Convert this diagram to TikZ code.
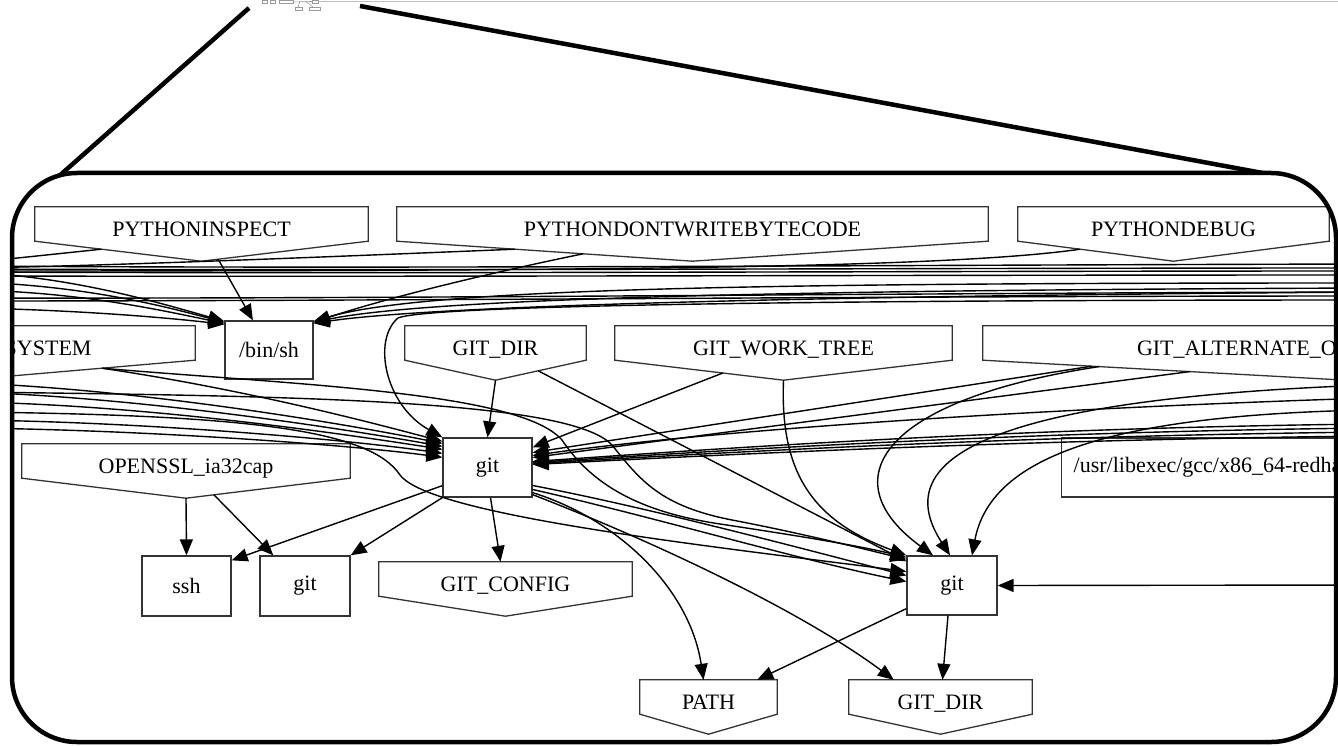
\documentclass[tikz,border=0pt]{standalone}
\usepackage{fontspec}
\setmainfont{Liberation Serif}
\usetikzlibrary{arrows.meta,calc}
\tikzset{
  nodeline/.style={draw=black!80, line width=1.3pt},
  gvfont/.style={font=\fontsize{22}{26}\selectfont},
  boxnode/.style={rectangle, nodeline, gvfont, inner sep=0pt},
  envbox/.style={rectangle, gvfont, inner sep=0pt, minimum height=34pt},
  edge/.style={line width=1.4pt, black},
  arr/.style={edge, -{Triangle[length=16pt,width=13pt]}},
  thumbline/.style={draw=black!40, line width=0.6pt},
  zoomline/.style={line width=4.5pt, black},
}
\newcommand\envnode[5]{%
  \node[envbox, minimum width=#4pt] (#1) at (#2,#3+17) {\raisebox{-12.5pt}[0pt][0pt]{#5}};
  \coordinate (#1-tip) at ($(#1.south)+(0,20)$);
  \draw[nodeline] (#1.north west) -- (#1.north east) -- (#1.south east) -- (#1-tip) -- (#1.south west) -- cycle;
}
\begin{document}
\begin{tikzpicture}[x=1pt,y=-1pt]
\useasboundingbox (0,0) rectangle (1338,746);

% ---- overview thumbnail ----
\draw[thumbline] (262,0) rectangle (267,3);
\draw[thumbline] (270,0) rectangle (275,3);
\draw[thumbline] (279,0) rectangle (293,3);
\draw[thumbline] (312,0) rectangle (318,3);
\draw[thumbline] (295,7) rectangle (302,10);
\draw[thumbline] (309,7) rectangle (320,10);
\draw[thumbline] (293,2) -- (312,1.5);
\draw[thumbline] (300,1) -- (298,7);
\draw[thumbline] (305,1) -- (313,7);
\draw[draw=black!25, line width=0.8pt] (318,1.5) -- (1338,1.5);
\coordinate (thumbL) at (249,8);
\coordinate (thumbR) at (360,6);
\coordinate (calloutL) at (58,177);
\coordinate (calloutR) at (1268,174);
\draw[zoomline] (thumbL) -- (calloutL);
\draw[zoomline] (thumbR) -- (calloutR);

% ---- callout ----
\fill[white] (12,173) [rounded corners=65pt] rectangle (1336,742);
\begin{scope}
\clip[rounded corners=65pt] (12,173) rectangle (1336,742);

% nodes
\envnode{pi}{201.5}{207}{333}{PYTHONINSPECT}
\envnode{pd}{692.5}{207}{591}{PYTHONDONTWRITEBYTECODE}
\envnode{pb}{1173.5}{207}{311}{PYTHONDEBUG}
\envnode{sy}{-38}{326}{466}{GIT\_CONFIG\_NOSYSTEM}
\envnode{gd1}{495.5}{326}{181}{GIT\_DIR}
\envnode{gw}{783.5}{326}{337}{GIT\_WORK\_TREE}
\envnode{ga}{1346}{326}{726}{GIT\_ALTERNATE\_OBJECT\_DIRECTORIES}
\envnode{os}{186}{444}{328}{OPENSSL\_ia32cap}
\envnode{gc}{505.5}{562}{253}{GIT\_CONFIG}
\envnode{pa}{708.5}{680}{137}{PATH}
\envnode{gd2}{940.5}{680}{183}{GIT\_DIR}

\node[boxnode, minimum width=88pt, minimum height=58pt] (bs) at (269,350) {/bin/sh};
\node[boxnode, minimum width=89pt, minimum height=59pt] (g1) at (487.5,467.5) {git};
\node[boxnode, minimum width=89pt, minimum height=60pt] (ssh) at (186.5,586) {ssh};
\node[boxnode, minimum width=90pt, minimum height=60pt] (g2) at (305,586) {git};
\node[boxnode, minimum width=90pt, minimum height=59pt] (g3) at (952,585.5) {git};
\node[boxnode, minimum height=59pt, inner xsep=12pt, anchor=west] (usr) at (1061,467.5) {/usr/libexec/gcc/x86\_64-redhat-linux/4.8.5/cc1};

% free ends outside the view
\coordinate (lA) at (-30,266); \coordinate (lB) at (-30,269);
\coordinate (lC) at (-30,272); \coordinate (lD) at (-30,276);
\coordinate (lE) at (-30,298); \coordinate (lF) at (-30,301);
\coordinate (lG) at (-30,282); \coordinate (lH) at (-30,290);
\coordinate (lI) at (-30,308);
\coordinate (lJ) at (-30,383); \coordinate (lK) at (-30,392);
\coordinate (lL) at (-30,402); \coordinate (lN) at (-30,420);
\coordinate (lO) at (-30,428); \coordinate (lP) at (-30,412);
\coordinate (lQ) at (-30,263); \coordinate (lR) at (-30,268);
\coordinate (lS) at (-30,271);
\coordinate (rA) at (1370,264); \coordinate (rB) at (1370,268);
\coordinate (rC) at (1370,271); \coordinate (rD) at (1370,275);
\coordinate (rE) at (1370,292); \coordinate (rF) at (1370,296);
\coordinate (rG) at (1370,283); \coordinate (rH) at (1370,288);
\coordinate (rI) at (1370,300);
\coordinate (rJ) at (1370,424); \coordinate (rK) at (1370,428);
\coordinate (rL) at (1370,432); \coordinate (rM) at (1370,436);
\coordinate (rN) at (1370,385); \coordinate (rO) at (1370,410);
\coordinate (rP) at (1370,398); \coordinate (rQ) at (1370,585);
\coordinate (syp) at ($(sy.south east)!0.4!(sy-tip)$);

% top bands
\draw[edge] (lA) .. controls (400,269) and (900,265) .. (rA);
\draw[edge] (lB) .. controls (400,271) and (900,268) .. (rB);
\draw[edge] (lC) .. controls (400,274) and (900,271) .. (rC);
\draw[edge] (lD) .. controls (400,277) and (900,275) .. (rD);
\draw[edge] (lE) .. controls (400,299) and (900,293) .. (rE);
\draw[edge] (lF) .. controls (400,301) and (900,296) .. (rF);
\draw[edge] ($(pi.south west)!0.4!(pi-tip)$) -- (lQ);
\draw[edge] ($(pd.south west)!0.4!(pd-tip)$) .. controls (300,258) and (100,266) .. (lR);
\draw[edge] ($(pb.south west)!0.4!(pb-tip)$) .. controls (950,268) and (600,271) .. (lS);

% into /bin/sh
\draw[arr] ($(pi-tip)!0.1!(pi.south east)$) -- ($(bs.north west)!0.32!(bs.north east)$);
\draw[arr] (lC) .. controls (70,277) and (150,300) .. ($(bs.north west)+(0,1)$);
\draw[arr] (lG) .. controls (80,285) and (160,305) .. ($(bs.north west)+(0,2)$);
\draw[arr] (lH) .. controls (80,292) and (160,310) .. ($(bs.north west)+(0,3)$);
\draw[arr] (lI) .. controls (80,310) and (170,318) .. ($(bs.north west)+(0,4)$);
\draw[arr] ($(pd.south west)!0.63!(pd-tip)$) .. controls (480,275) and (380,300) .. ($(bs.north east)+(0,2)$);
\draw[arr] (rG) .. controls (800,283) and (430,287) .. ($(bs.north east)+(0,1)$);
\draw[arr] (rH) .. controls (800,290) and (430,298) .. ($(bs.north east)+(0,2)$);
\draw[arr] (rE) .. controls (800,296) and (430,306) .. ($(bs.north east)+(0,3)$);

% into git (main)
\draw[arr] (rI) .. controls (900,300) and (430,304) .. (398,318) .. controls (372,340) and (385,405) .. (g1.north west);
\draw[arr] (lJ) .. controls (150,390) and (350,425) .. ($(g1.north west)+(0,6)$);
\draw[arr] (lK) .. controls (150,398) and (350,430) .. ($(g1.north west)+(0,9)$);
\draw[arr] (lL) .. controls (150,405) and (350,435) .. ($(g1.north west)+(0,12)$);
\draw[arr] (lN) .. controls (150,422) and (350,440) .. ($(g1.north west)+(0,16)$);
\draw[arr] (lO) .. controls (150,430) and (350,445) .. ($(g1.north west)+(0,20)$);
\draw[arr] (syp) .. controls (250,390) and (380,425) .. ($(g1.north west)+(0,4)$);
\draw[arr] (gd1-tip) -- (g1.north);
\draw[arr] ($(gw.south west)!0.64!(gw-tip)$) -- ($(g1.north east)+(0,10)$);
\draw[arr] ($(ga.south west)!0.3!(ga-tip)$) -- ($(g1.east)+(0,-15)$);
\draw[arr] ($(ga.south west)!0.57!(ga-tip)$) -- ($(g1.east)+(0,-10)$);
\draw[arr] (rP) .. controls (1000,410) and (700,432) .. ($(g1.east)+(0,-12)$);
\draw[arr] (rJ) .. controls (1000,428) and (700,450) .. ($(g1.east)+(0,-6)$);
\draw[arr] (rK) .. controls (1000,432) and (700,452) .. ($(g1.east)+(0,-5)$);
\draw[arr] (rL) .. controls (1000,436) and (700,454) .. ($(g1.east)+(0,-4)$);
\draw[arr] (rM) .. controls (1000,440) and (700,456) .. ($(g1.east)+(0,-3)$);

% into git (lower)
\draw[arr] (syp) .. controls (300,385) and (520,392) .. (562,440) .. controls (592,485) and (640,512) .. (720,524) .. controls (800,536) and (860,546) .. ($(g3.north west)+(0,2)$);
\draw[arr] (lK) .. controls (300,396) and (570,400) .. (612,445) .. controls (640,480) and (660,506) .. (732,520) .. controls (800,533) and (860,548) .. ($(g3.north west)+(0,4)$);
\draw[arr] (lP) .. controls (250,415) and (370,430) .. (400,475) .. controls (430,515) and (700,545) .. ($(g3.west)+(0,-14)$);
\draw[arr] ($(gd1.south east)!0.53!(gd1-tip)$) -- ($(g3.north west)+(0,6)$);
\draw[arr] (gw-tip) .. controls (780,470) and (810,520) .. (g3.north west);
\draw[arr] ($(ga.south west)!0.32!(ga-tip)$) .. controls (880,400) and (830,480) .. ($(g3.north)+(-19,0)$);
\draw[arr] (rN) .. controls (950,400) and (895,470) .. ($(g3.north)+(-2,0)$);
\draw[arr] (rO) .. controls (1100,415) and (990,460) .. ($(g3.north)+(20,0)$);
\draw[arr] ($(g1.east)+(0,18)$) .. controls (650,508) and (800,548) .. ($(g3.west)+(0,-10)$);
\draw[arr] ($(g1.east)+(0,22)$) .. controls (650,516) and (800,560) .. ($(g3.west)+(0,-4)$);
\draw[arr] (rQ) -- (g3.east);

% lower targets
\draw[arr] ($(g1.south east)+(0,-5)$) .. controls (620,520) and (690,590) .. ($(pa.north)+(-5,0)$);
\draw[arr] ($(g1.south east)+(0,-3)$) .. controls (650,540) and (800,610) .. ($(gd2.north west)+(45,0)$);
\draw[arr] ($(g1.south west)+(0,-12)$) -- ($(ssh.north east)+(0,5)$);
\draw[arr] (g1.south west) -- (g2.north east);
\draw[arr] ($(g1.south)+(3,0)$) -- ($(gc.north)+(-5,0)$);
\draw[arr] (os-tip) -- (ssh.north);
\draw[arr] ($(os-tip)!0.17!(os.south east)$) -- ($(g2.north west)+(14,0)$);
\draw[arr] ($(g3.south west)+(0,-7)$) -- ($(pa.north east)+(-20,0)$);
\draw[arr] ($(g3.south)+(-4,0)$) -- ($(gd2.north)+(2,0)$);
\end{scope}
\draw[line width=4.5pt, rounded corners=65pt] (12,173) rectangle (1336,742);
\end{tikzpicture}
\end{document}
